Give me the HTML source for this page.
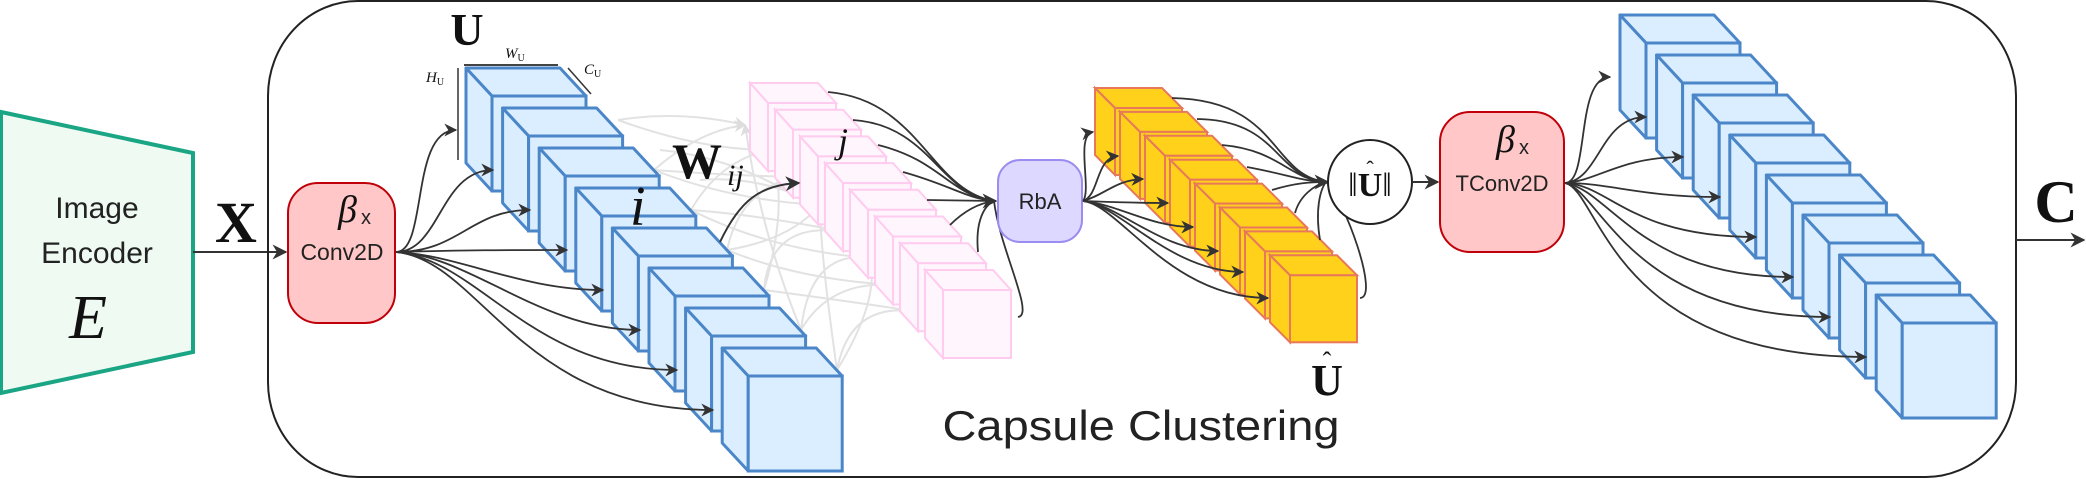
<!DOCTYPE html>
<html><head><meta charset="utf-8"><style>
html,body{margin:0;padding:0;background:#fff;}
svg{display:block;}
.s{font-family:"Liberation Sans","DejaVu Sans",sans-serif;fill:#222;}
.m{font-family:"Liberation Serif","DejaVu Serif",serif;fill:#111;}
</style></head><body>
<svg width="2086" height="479" viewBox="0 0 2086 479" xmlns="http://www.w3.org/2000/svg">
<defs>
<marker id="a" viewBox="0 0 10 10" refX="9" refY="5" markerWidth="13" markerHeight="13" orient="auto" markerUnits="userSpaceOnUse">
<path d="M0,0 L10,5 L0,10 L3,5 Z" fill="#333"/>
</marker>
<marker id="g" viewBox="0 0 10 10" refX="9" refY="5" markerWidth="12" markerHeight="12" orient="auto" markerUnits="userSpaceOnUse">
<path d="M0,0 L10,5 L0,10 L3,5 Z" fill="#ddd"/>
</marker>
<marker id="b" viewBox="0 0 10 10" refX="9" refY="5" markerWidth="15" markerHeight="15" orient="auto" markerUnits="userSpaceOnUse">
<path d="M0,0 L10,5 L0,10 L3,5 Z" fill="#333"/>
</marker>
<g id="bc">
<polygon points="0,0 94,0 120,28 26,28" fill="#dbeeff" stroke="#4a86c8" stroke-width="3" stroke-linejoin="round"/>
<polygon points="0,0 26,28 26,123 0,95" fill="#dbeeff" stroke="#4a86c8" stroke-width="3" stroke-linejoin="round"/>
<rect x="26" y="28" width="94" height="95" fill="#dbeeff" stroke="#4a86c8" stroke-width="3"/>
</g>
<g id="pc">
<polygon points="0,0 68,0 86,20 18,20" fill="#fff5fc" stroke="#ffccef" stroke-width="2"/>
<polygon points="0,0 18,20 18,88 0,68" fill="#fff5fc" stroke="#ffccef" stroke-width="2"/>
<rect x="18" y="20" width="68" height="68" fill="#fff5fc" stroke="#ffccef" stroke-width="2"/>
</g>
<g id="yc">
<polygon points="0,0 67,0 87,20 20,20" fill="#ffd11a" stroke="#e8785a" stroke-width="2"/>
<polygon points="0,0 20,20 20,87 0,67" fill="#ffd11a" stroke="#e8785a" stroke-width="2"/>
<rect x="20" y="20" width="67" height="67" fill="#ffd11a" stroke="#e8785a" stroke-width="2"/>
</g>
</defs>

<!-- encoder -->
<polygon points="1,112 193,153 193,352 1,393" fill="#eefaf2" stroke="#1aa584" stroke-width="4"/>
<text x="97" y="218" class="s" font-size="30" text-anchor="middle">Image</text>
<text x="97" y="263" class="s" font-size="30" text-anchor="middle">Encoder</text>
<text x="88" y="338" class="m" font-size="62" font-style="italic" text-anchor="middle">E</text>
<text x="236" y="242" class="m" font-size="58" font-weight="bold" text-anchor="middle">X</text>
<line x1="193" y1="252" x2="286" y2="252" stroke="#333" stroke-width="2" marker-end="url(#b)"/>

<!-- main box -->
<rect x="268" y="1" width="1748" height="476" rx="90" ry="95" fill="none" stroke="#222" stroke-width="2"/>
<line x1="2016" y1="240" x2="2084" y2="240" stroke="#333" stroke-width="2" marker-end="url(#b)"/>
<text x="2056" y="222" class="m" font-size="60" font-weight="bold" text-anchor="middle">C</text>

<!-- Conv2D -->
<rect x="288" y="183" width="107" height="140" rx="30" fill="#ffc7c7" stroke="#c0000a" stroke-width="2"/>
<text x="338" y="222" class="m" font-size="38" font-style="italic">β</text>
<text x="361" y="224" class="s" font-size="20">x</text>
<text x="342" y="260" class="s" font-size="23" text-anchor="middle">Conv2D</text>

<!-- gray connectors (behind) -->
<g fill="none" stroke="#e2e2e2" stroke-width="2" marker-end="url(#g)">
<path d="M618,120 Q680,110 745,125"/>
<path d="M618,120 Q700,150 770,150"/>
<path d="M654,170 Q700,130 745,125"/>
<path d="M654,170 Q720,175 795,177"/>
<path d="M654,170 Q730,200 820,205"/>
<path d="M691,210 Q720,160 770,150"/>
<path d="M691,210 Q760,215 845,232"/>
<path d="M691,210 Q770,250 870,258"/>
<path d="M727,250 Q740,190 795,177"/>
<path d="M727,250 Q790,240 820,205"/>
<path d="M727,250 Q800,280 895,285"/>
<path d="M764,290 Q770,220 845,232"/>
<path d="M764,290 Q840,300 920,312"/>
<path d="M764,290 Q790,200 770,150"/>
<path d="M801,330 Q810,250 870,258"/>
<path d="M801,330 Q830,280 895,285"/>
<path d="M801,330 Q760,230 745,125"/>
<path d="M837,370 Q850,300 920,312"/>
<path d="M837,370 Q820,250 820,205"/>
<path d="M837,370 Q880,300 870,258"/>
<path d="M700,180 Q760,175 820,205"/>
<path d="M660,150 Q760,160 845,232"/>
</g>

<!-- left blue cubes -->
<use href="#bc" x="466" y="68"/>
<use href="#bc" x="502.6" y="108"/>
<use href="#bc" x="539.2" y="148"/>
<use href="#bc" x="575.8" y="188"/>
<use href="#bc" x="612.4" y="228"/>
<use href="#bc" x="649" y="268"/>
<use href="#bc" x="685.6" y="308"/>
<use href="#bc" x="722.2" y="348"/>

<!-- dims -->
<text x="467" y="45" class="m" font-size="46" font-weight="bold" text-anchor="middle">U</text>
<line x1="464" y1="65" x2="558" y2="65" stroke="#444" stroke-width="2"/>
<text x="505" y="58" class="m" font-size="15" font-style="italic">W<tspan font-size="10" font-style="normal" dy="3">U</tspan></text>
<line x1="458" y1="68" x2="458" y2="160" stroke="#333" stroke-width="1.5"/>
<text x="426" y="82" class="m" font-size="15" font-style="italic">H<tspan font-size="10" font-style="normal" dy="3">U</tspan></text>
<line x1="568" y1="68" x2="591" y2="94" stroke="#333" stroke-width="1.5"/>
<text x="584" y="74" class="m" font-size="15" font-style="italic">C<tspan font-size="10" font-style="normal" dy="3">U</tspan></text>

<!-- Conv2D to blue cubes -->
<g fill="none" stroke="#333" stroke-width="1.8" marker-end="url(#a)">
<path d="M396,252 C428,252 410,130 456,130"/>
<path d="M396,252 C440,252 440,170 493,170"/>
<path d="M396,252 C460,252 470,210 530,210"/>
<path d="M396,252 C470,250 500,250 567,250"/>
<path d="M396,252 C460,255 520,290 603,290"/>
<path d="M396,252 C470,255 540,330 640,330"/>
<path d="M396,252 C480,260 530,370 677,370"/>
<path d="M396,252 C480,260 520,410 713,410"/>
</g>

<!-- pink cubes -->
<use href="#pc" x="750" y="83"/>
<use href="#pc" x="775" y="109.7"/>
<use href="#pc" x="800" y="136.4"/>
<use href="#pc" x="825" y="163.1"/>
<use href="#pc" x="850" y="189.8"/>
<use href="#pc" x="875" y="216.5"/>
<use href="#pc" x="900" y="243.2"/>
<use href="#pc" x="925" y="270"/>

<!-- labels -->
<text x="672" y="178" class="m" font-size="50" font-weight="bold">W</text>
<text x="727" y="185" class="m" font-size="30" font-style="italic">ij</text>
<text x="838" y="153" class="m" font-size="36" font-style="italic">j</text>
<text x="630" y="225" class="m" font-size="56" font-style="italic">i</text>
<path d="M720,242 C740,200 760,185 799,183" fill="none" stroke="#333" stroke-width="2" marker-end="url(#b)"/>

<!-- pink to RbA -->
<g fill="none" stroke="#333" stroke-width="1.8">
<path d="M828,92 C920,100 930,190 994,201"/>
<path d="M853,120 C930,125 940,195 994,201"/>
<path d="M878,145 C940,160 950,195 994,201"/>
<path d="M903,172 C950,185 965,198 994,201"/>
<path d="M927,200 L994,201"/>
<path d="M950,225 C965,210 980,203 994,201"/>
<path d="M978,252 C975,220 985,205 994,201"/>
<path d="M1018,317 C1035,315 1000,250 994,201"/>
</g>
<path d="M985,201 L996,201" stroke="#333" stroke-width="2" marker-end="url(#b)"/>

<!-- RbA -->
<rect x="998" y="160" width="84" height="82" rx="22" fill="#dcd8ff" stroke="#9a8cf0" stroke-width="2"/>
<text x="1040" y="209" class="s" font-size="22" text-anchor="middle">RbA</text>

<!-- yellow cubes -->
<use href="#yc" x="1095" y="88"/>
<use href="#yc" x="1120" y="111.9"/>
<use href="#yc" x="1145" y="135.8"/>
<use href="#yc" x="1170" y="159.7"/>
<use href="#yc" x="1195" y="183.6"/>
<use href="#yc" x="1220" y="207.5"/>
<use href="#yc" x="1245" y="231.4"/>
<use href="#yc" x="1270" y="255.3"/>

<!-- RbA to yellow -->
<g fill="none" stroke="#333" stroke-width="1.8" marker-end="url(#a)">
<path d="M1083,201 C1092,190 1075,135 1093,132"/>
<path d="M1083,201 C1100,195 1095,158 1118,156"/>
<path d="M1083,201 C1105,195 1115,180 1143,179"/>
<path d="M1083,201 C1110,202 1130,203 1168,203"/>
<path d="M1083,201 C1120,205 1150,227 1193,227"/>
<path d="M1083,201 C1120,205 1160,251 1218,251"/>
<path d="M1083,201 C1120,205 1170,272 1243,272"/>
<path d="M1083,201 C1120,205 1170,298 1268,298"/>
</g>

<!-- yellow to norm -->
<g fill="none" stroke="#333" stroke-width="1.8">
<path d="M1172,98 C1280,100 1270,175 1326,182"/>
<path d="M1197,119 C1280,120 1275,178 1326,182"/>
<path d="M1222,145 C1280,150 1290,180 1326,182"/>
<path d="M1247,167 C1290,175 1300,181 1326,182"/>
<path d="M1272,190 C1295,183 1310,182 1326,182"/>
<path d="M1295,213 C1300,195 1315,185 1326,182"/>
<path d="M1320,240 C1315,210 1320,190 1326,182"/>
<path d="M1360,298 C1380,298 1345,200 1326,182"/>
</g>
<path d="M1316,182 L1328,182" stroke="#333" stroke-width="2" marker-end="url(#b)"/>

<!-- norm circle -->
<circle cx="1370" cy="182" r="42" fill="#fff" stroke="#222" stroke-width="2"/>
<text x="1370" y="196" class="m" font-size="34" text-anchor="middle">‖<tspan font-weight="bold">U</tspan>‖</text>
<text x="1370" y="176" class="m" font-size="22" text-anchor="middle">ˆ</text>
<text x="1327" y="395" class="m" font-size="44" font-weight="bold" text-anchor="middle">U</text>
<text x="1327" y="370" class="m" font-size="26" text-anchor="middle">ˆ</text>
<line x1="1412" y1="182" x2="1438" y2="182" stroke="#333" stroke-width="2" marker-end="url(#b)"/>

<!-- TConv2D -->
<rect x="1440" y="112" width="124" height="140" rx="30" fill="#ffc7c7" stroke="#c0000a" stroke-width="2"/>
<text x="1496" y="152" class="m" font-size="38" font-style="italic">β</text>
<text x="1519" y="154" class="s" font-size="20">x</text>
<text x="1502" y="191" class="s" font-size="22" text-anchor="middle">TConv2D</text>

<!-- right blue cubes -->
<use href="#bc" x="1620" y="15"/>
<use href="#bc" x="1656.6" y="55"/>
<use href="#bc" x="1693.2" y="95"/>
<use href="#bc" x="1729.8" y="135"/>
<use href="#bc" x="1766.4" y="175"/>
<use href="#bc" x="1803" y="215"/>
<use href="#bc" x="1839.6" y="255"/>
<use href="#bc" x="1876.2" y="295"/>

<g fill="none" stroke="#333" stroke-width="1.8" marker-end="url(#a)">
<path d="M1565,183 C1590,183 1575,77 1610,77"/>
<path d="M1565,183 C1600,180 1600,117 1646,117"/>
<path d="M1565,183 C1600,180 1620,157 1683,157"/>
<path d="M1565,183 C1610,183 1640,197 1720,197"/>
<path d="M1565,183 C1610,185 1630,237 1756,237"/>
<path d="M1565,183 C1610,190 1640,277 1793,277"/>
<path d="M1565,183 C1600,190 1630,317 1830,317"/>
<path d="M1565,183 C1600,190 1610,357 1866,357"/>
</g>

<text x="1141" y="440" class="s" font-size="42" text-anchor="middle" textLength="397" lengthAdjust="spacingAndGlyphs">Capsule Clustering</text>
</svg>
</body></html>
